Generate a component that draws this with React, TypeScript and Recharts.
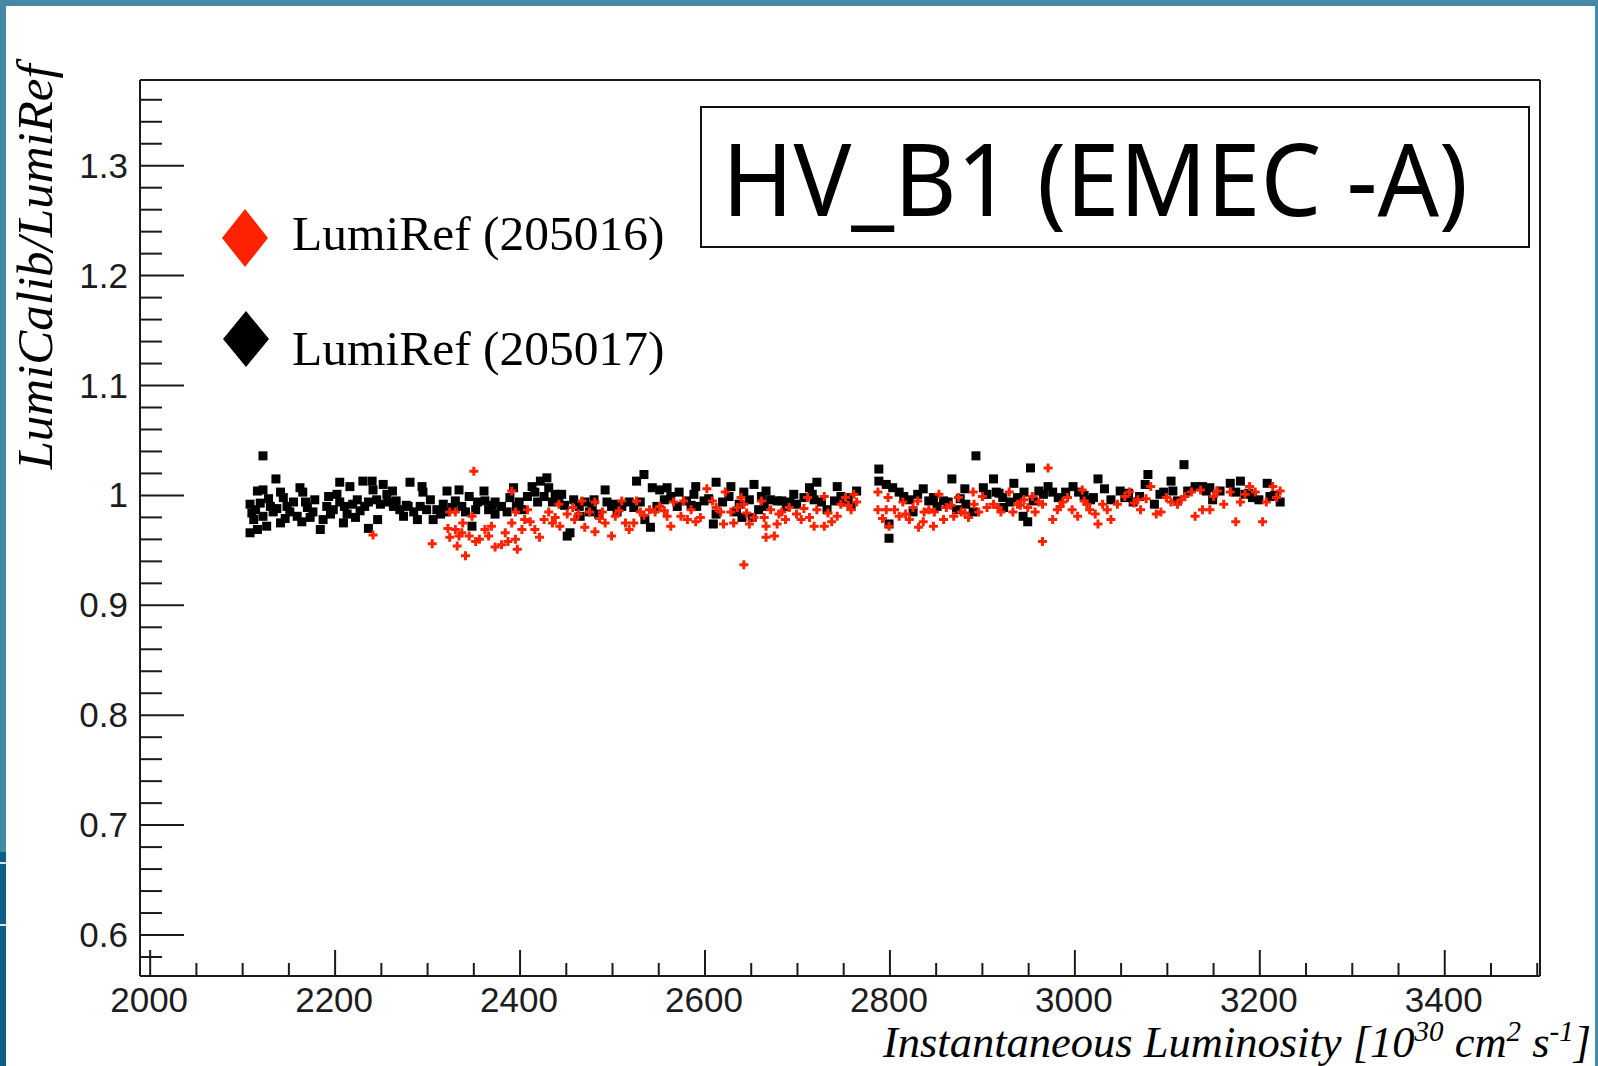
import { Scatter, ScatterChart, XAxis, YAxis } from "recharts";

// run 205017 (black squares)
const run205017Lumi = [
  2122, 2136, 2116, 2122, 2108, 2114, 2112, 2108, 2116, 2126, 2122, 2130, 2133, 2141, 2144, 2141, 2148, 2151, 2155, 2162,
  2165, 2159, 2164, 2173, 2170, 2178, 2184, 2187, 2191, 2193, 2202, 2198, 2205, 2205, 2209, 2213, 2216, 2219, 2224, 2222,
  2230, 2240, 2232, 2236, 2236, 2241, 2245, 2246, 2252, 2256, 2262, 2257, 2263, 2270, 2274, 2281, 2279, 2285, 2289, 2294,
  2295, 2299, 2303, 2306, 2310, 2314, 2321, 2319, 2334, 2330, 2337, 2341, 2345, 2348, 2354, 2361, 2362, 2366, 2373, 2373,
  2380, 2386, 2389, 2393, 2399, 2402, 2408, 2413, 2416, 2422, 2429, 2426, 2431, 2435, 2438, 2442, 2445, 2451, 2454, 2458,
  2464, 2465, 2470, 2475, 2480, 2485, 2492, 2494, 2499, 2505, 2510, 2518, 2523, 2526, 2534, 2535, 2541, 2543, 2548, 2551,
  2559, 2563, 2572, 2570, 2580, 2590, 2588, 2591, 2599, 2609, 2612, 2612, 2619, 2626, 2628, 2634, 2640, 2642, 2648, 2653,
  2651, 2658, 2664, 2666, 2671, 2678, 2683, 2688, 2696, 2699, 2707, 2713, 2716, 2721, 2726, 2732, 2743, 2747, 2750, 2758,
  2764, 2788, 2788, 2796, 2803, 2810, 2815, 2821, 2825, 2836, 2842, 2847, 2851, 2858, 2863, 2867, 2872, 2881, 2882, 2893,
  2890, 2901, 2905, 2912, 2915, 2922, 2923, 2930, 2934, 2938, 2944, 2949, 2945, 2952, 2955, 2961, 2971, 2976, 2982, 2990,
  2998, 3004, 2799, 2799, 3025, 3017, 3020, 3032, 3039, 3049, 3054, 3063, 3070, 3076, 3079, 3086, 3092, 3104, 3106, 3111,
  3118, 3122, 3130, 3138, 3149, 3146, 3157, 3168, 3174, 3179, 3184, 3192, 3199, 3208, 3211, 3222,
  2110, 2119, 2128, 2137, 2146, 2168, 2176, 2195, 2210, 2227, 2249, 2266, 2277, 2292, 2317, 2327, 2352, 2370, 2396, 2419,
  2448, 2478, 2503, 2530, 2556, 2585, 2604, 2637, 2661, 2692, 2718, 2740, 2755, 2830, 2876, 2918, 2966, 3010, 3058, 3096,
  3142, 3188, 3216,
];
const run205017Ratio = [
  1.036, 1.015, 1.004, 1.005, 0.992, 0.987, 0.978, 0.966, 0.969, 0.972, 0.981, 0.99, 0.985, 1.003, 0.998, 0.975, 0.99, 0.985, 0.994, 1.007,
  1.003, 0.981, 0.976, 0.98, 0.989, 0.996, 0.969, 0.978, 0.99, 0.999, 1.001, 0.987, 1.012, 0.994, 0.975, 0.983, 1.008, 0.992, 0.996, 0.98,
  1.013, 1.013, 0.99, 0.994, 0.97, 1.005, 0.996, 0.978, 1.01, 1.001, 1.004, 0.994, 0.99, 0.987, 0.981, 1.012, 0.99, 0.985, 0.978, 1.008,
  1.003, 0.987, 0.996, 0.978, 0.987, 0.983, 1.004, 0.985, 1.005, 0.995, 0.99, 0.985, 0.999, 0.972, 0.994, 1.004, 0.995, 0.987, 0.994, 0.983,
  0.99, 0.985, 0.998, 1.007, 0.994, 0.987, 0.999, 1.008, 1.003, 1.013, 1.016, 0.999, 1.007, 0.994, 1.001, 0.998, 1.001, 0.963, 0.966, 0.996,
  0.99, 0.981, 0.994, 0.985, 0.996, 0.983, 1.005, 0.994, 0.99, 0.985, 0.99, 0.994, 0.989, 1.013, 1.019, 0.978, 0.971, 1.007, 0.99, 1.005,
  1.007, 0.999, 1.003, 0.99, 0.995, 1.008, 1.001, 0.99, 0.995, 0.974, 1.012, 0.983, 0.994, 0.999, 1.008, 0.985, 0.98, 1.003, 0.996, 1.01,
  0.98, 0.987, 0.99, 1.004, 0.996, 0.995, 0.995, 0.99, 1.001, 0.992, 0.998, 1.007, 1.001, 1.012, 0.994, 0.987, 1.008, 0.999, 0.994, 0.99,
  1.004, 1.024, 1.013, 1.01, 1.007, 1.003, 0.999, 0.996, 0.985, 1.006, 0.995, 0.998, 0.99, 0.995, 0.994, 1.015, 0.987, 1.006, 0.992, 1.036,
  0.985, 1.007, 1.001, 1.015, 1.003, 0.998, 0.989, 0.994, 1.011, 0.998, 0.981, 0.976, 1.003, 1.025, 0.995, 1.004, 1.008, 1.003, 0.998, 1.003,
  1.008, 1.003, 0.974, 0.961, 1.015, 0.996, 0.998, 1.006, 0.996, 1.004, 0.998, 0.994, 0.999, 1.01, 1.019, 0.992, 1.001, 1.013, 1.004, 0.995,
  1.028, 1.004, 1.008, 1.008, 0.996, 1.007, 1.004, 1.011, 1.003, 1.013, 1.001, 0.998, 0.996, 1.011, 0.999, 0.994,
  0.984, 0.993, 0.997, 0.988, 0.979, 0.994, 0.985, 0.983, 0.99, 0.986, 0.992, 0.995, 0.991, 0.99, 0.992, 0.989, 0.987, 0.991, 0.99, 0.994,
  0.991, 0.99, 0.992, 0.994, 0.996, 0.991, 0.997, 0.992, 0.999, 0.994, 0.996, 0.995, 0.998, 1.001, 0.997, 1.002, 1.001, 1.0, 1.002, 1.003,
  1.004, 1.002, 1.0,
];

// run 205016 (red crosses)
const run205016Lumi = [
  2241, 2305, 2324, 2322, 2324, 2350, 2330, 2330, 2334, 2332, 2341, 2337, 2348, 2345, 2356, 2362, 2366, 2373, 2380, 2384,
  2391, 2391, 2397, 2395, 2395, 2402, 2408, 2411, 2416, 2421, 2426, 2431, 2435, 2442, 2443, 2451, 2457, 2459, 2467, 2470,
  2475, 2481, 2481, 2489, 2492, 2499, 2503, 2510, 2514, 2518, 2523, 2526, 2530, 2540, 2546, 2551, 2559, 2563, 2566, 2574,
  2577, 2581, 2590, 2595, 2602, 2608, 2617, 2620, 2622, 2628, 2631, 2635, 2639, 2642, 2642, 2648, 2653, 2661, 2664, 2666,
  2666, 2675, 2671, 2678, 2680, 2687, 2691, 2699, 2704, 2711, 2713, 2718, 2721, 2729, 2729, 2737, 2743, 2747, 2752, 2758,
  2761, 2764, 2787, 2787, 2798, 2799, 2796, 2805, 2810, 2814, 2821, 2825, 2830, 2831, 2836, 2837, 2847, 2848, 2853, 2858,
  2861, 2869, 2874, 2877, 2885, 2890, 2891, 2896, 2900, 2905, 2912, 2920, 2929, 2933, 2938, 2945, 2949, 2954, 2957, 2965,
  2971, 2965, 2976, 2981, 2987, 2992, 2997, 3003, 3008, 3010, 3016, 3022, 3025, 3030, 3039, 3046, 3054, 3059, 3068, 3071,
  3082, 3088, 3093, 3099, 3104, 3111, 3119, 3126, 3130, 3138, 3136, 3146, 3154, 3161, 3168, 3174, 3179, 3189, 3195, 3203,
  3207, 3214, 3222,
  2338, 2352, 2369, 2387, 2405, 2438, 2463, 2486, 2507, 2534, 2556, 2585, 2612, 2645, 2683, 2707, 2733, 2755, 2792, 2817,
  2842, 2866, 2881, 2917, 2941, 2961, 2984, 3013, 3035, 3064, 3077, 3115, 3150, 3184, 3218,
];
const run205016Ratio = [
  0.964, 0.956, 0.985, 0.97, 0.962, 1.022, 0.985, 0.969, 0.963, 0.954, 0.945, 0.966, 0.981, 0.963, 0.96, 0.969, 0.963, 0.953, 0.955, 0.966,
  1.004, 0.975, 0.951, 0.96, 0.985, 0.969, 0.987, 0.976, 0.969, 0.962, 0.978, 0.985, 0.975, 0.992, 0.972, 0.983, 0.989, 0.978, 0.995, 0.971,
  0.985, 0.994, 0.967, 0.985, 0.975, 0.963, 0.981, 0.995, 0.975, 0.969, 0.975, 0.995, 0.985, 0.987, 0.985, 0.99, 0.981, 0.972, 0.994, 0.981,
  0.995, 0.978, 0.976, 0.98, 1.006, 0.995, 0.985, 0.974, 1.003, 0.985, 0.975, 0.989, 0.998, 0.937, 0.992, 0.974, 0.98, 0.995, 0.98, 0.972,
  0.962, 0.963, 0.987, 0.974, 0.983, 0.978, 0.989, 0.983, 0.978, 0.998, 0.98, 0.972, 0.987, 0.999, 0.972, 0.976, 0.981, 0.992, 0.998, 0.987,
  1.001, 0.994, 1.003, 0.987, 0.998, 0.972, 0.987, 0.987, 0.981, 0.994, 0.978, 0.989, 0.995, 0.971, 0.976, 0.985, 0.972, 0.985, 1.001, 0.978,
  0.989, 0.981, 0.998, 0.985, 0.98, 1.003, 0.992, 0.985, 0.999, 0.989, 0.992, 0.985, 1.003, 0.985, 0.992, 0.996, 0.989, 0.999, 0.985, 0.958,
  1.025, 0.992, 0.978, 0.987, 0.994, 0.998, 0.987, 0.981, 1.005, 0.995, 0.987, 0.983, 0.974, 0.992, 0.978, 0.992, 0.999, 1.003, 0.996, 0.987,
  1.008, 0.983, 0.985, 0.998, 0.994, 0.992, 0.999, 1.003, 0.981, 0.987, 1.005, 0.987, 1.004, 0.992, 1.003, 0.976, 0.994, 1.008, 1.003, 0.976,
  0.994, 1.008, 1.004,
  0.975, 0.958, 0.972, 0.958, 0.978, 0.98, 0.983, 0.979, 0.986, 0.982, 0.986, 0.987, 0.989, 0.984, 0.985, 0.988, 0.984, 0.991, 0.979, 0.983,
  0.987, 0.991, 0.984, 0.989, 0.991, 0.994, 0.99, 0.992, 0.987, 0.993, 0.997, 0.996, 0.999, 1.001, 0.998,
];

const xMajorTicks = [2000, 2200, 2400, 2600, 2800, 3000, 3200, 3400];
const yMajorTicks = [0.6, 0.7, 0.8, 0.9, 1, 1.1, 1.2, 1.3];
const legendLabels = ["LumiRef (205016)", "LumiRef (205017)"];
const plotTitle = "HV_B1 (EMEC -A)";

// minor ticks: every 50 on x, every 0.02 on y
const xTicks = Array.from({ length: 31 }, (_, i) => 2000 + i * 50);
const yTicks = Array.from({ length: 40 }, (_, i) => Math.round((0.58 + i * 0.02) * 100) / 100);

const black = run205017Lumi.map((x, i) => ({ x, y: run205017Ratio[i] }));
const red = run205016Lumi.map((x, i) => ({ x, y: run205016Ratio[i] }));

const AXIS = "#1a1a1a";
const RED = "#ff2200";
const sans = "'Liberation Sans', Arial, sans-serif";
const serif = "'Liberation Serif', 'Times New Roman', serif";
const X_DOMAIN: [number, number] = [1989, 3503];
const Y_DOMAIN: [number, number] = [0.5627, 1.378];

function XTick({ x, y, payload }: any) {
  const major = xMajorTicks.includes(payload.value);
  return (
    <g>
      <line x1={x} x2={x} y1={y} y2={y - (major ? 26 : 13)} stroke={AXIS} strokeWidth={2} />
      {major && (
        <text x={x - 1} y={y + 36} textAnchor="middle" fontSize={35} fill="#1c1c1c" fontFamily={sans}>
          {payload.value}
        </text>
      )}
    </g>
  );
}

function YTick({ x, y, payload }: any) {
  const major = yMajorTicks.includes(payload.value);
  return (
    <g>
      <line x1={x} x2={x + (major ? 44 : 22)} y1={y} y2={y} stroke={AXIS} strokeWidth={2} />
      {major && (
        <text x={x - 12} y={y + 12} textAnchor="end" fontSize={35} fill="#1c1c1c" fontFamily={sans}>
          {String(payload.value)}
        </text>
      )}
    </g>
  );
}

const square = (p: any) => <rect x={p.cx - 4.5} y={p.cy - 4.5} width={9} height={9} fill="#000" />;
const cross = (p: any) => (
  <path
    d={`M${p.cx - 4.5},${p.cy}H${p.cx + 4.5}M${p.cx},${p.cy - 4.5}V${p.cy + 4.5}`}
    stroke={RED}
    strokeWidth={3}
  />
);

export default function App() {
  return (
    <div style={{ position: "absolute", left: 0, top: 0, width: 1598, height: 1066, background: "#fff" }}>
      <ScatterChart width={1598} height={1066} margin={{ top: 79, right: 57, bottom: 89, left: 139 }}>
        <XAxis
          type="number"
          dataKey="x"
          domain={X_DOMAIN}
          allowDataOverflow
          ticks={xTicks}
          interval={0}
          height={1}
          tickSize={0}
          tickMargin={0}
          tickLine={false}
          tick={<XTick />}
          axisLine={{ stroke: AXIS, strokeWidth: 2 }}
        />
        <YAxis
          type="number"
          dataKey="y"
          domain={Y_DOMAIN}
          allowDataOverflow
          ticks={yTicks}
          interval={0}
          width={1}
          tickSize={0}
          tickMargin={0}
          tickLine={false}
          tick={<YTick />}
          axisLine={{ stroke: AXIS, strokeWidth: 2 }}
        />
        <XAxis
          xAxisId="top"
          orientation="top"
          type="number"
          domain={X_DOMAIN}
          allowDataOverflow
          height={1}
          tick={false}
          tickLine={false}
          axisLine={{ stroke: AXIS, strokeWidth: 2 }}
        />
        <YAxis
          yAxisId="right"
          orientation="right"
          type="number"
          domain={Y_DOMAIN}
          allowDataOverflow
          width={1}
          tick={false}
          tickLine={false}
          axisLine={{ stroke: AXIS, strokeWidth: 2 }}
        />
        <Scatter data={black} shape={square} isAnimationActive={false} />
        <Scatter data={red} shape={cross} isAnimationActive={false} />
      </ScatterChart>

      <svg width={1598} height={1066} style={{ position: "absolute", left: 0, top: 0, pointerEvents: "none" }}>
        {/* slide frame */}
        <rect x={0} y={0} width={1598} height={6} fill="#4589a6" />
        <rect x={0} y={0} width={6} height={852} fill="#4589a6" />
        <rect x={0} y={852} width={6} height={214} fill="#0b5e86" />
        <rect x={0} y={862} width={6} height={2} fill="#d6e6ee" />
        <rect x={0} y={924} width={6} height={2} fill="#d6e6ee" />
        <rect x={1595} y={0} width={3} height={1066} fill="#4589a6" />

        {/* title box */}
        <rect x={701} y={107} width={828} height={140} fill="#fff" stroke="#111" strokeWidth={2} />
        <text x={722} y={216} fontSize={100} fontFamily="'Noto Sans', 'DejaVu Sans', sans-serif" fill="#000" textLength={746} lengthAdjust="spacingAndGlyphs">
          {plotTitle}
        </text>

        {/* legend */}
        <path d="M245,209 L268,238 L245,267 L222,238 Z" fill={RED} />
        <text x={292} y={250} fontSize={49.5} fontFamily={serif} fill="#000">
          {legendLabels[0]}
        </text>
        <path d="M246,311 L269,339 L246,367 L223,339 Z" fill="#000" />
        <text x={292} y={365} fontSize={49.5} fontFamily={serif} fill="#000">
          {legendLabels[1]}
        </text>

        {/* axis titles */}
        <text
          x={52}
          y={267}
          transform="rotate(-90 52 267)"
          textAnchor="middle"
          fontSize={51}
          fontStyle="italic"
          fontFamily={serif}
          fill="#000"
        >
          LumiCalib/LumiRef
        </text>
        <text x={1591} y={1057} textAnchor="end" fontSize={44.5} fontStyle="italic" fontFamily={serif} fill="#000">
          Instantaneous Luminosity [10
          <tspan fontSize={29} dy={-16}>30</tspan>
          <tspan dy={16}> cm</tspan>
          <tspan fontSize={29} dy={-16}>2</tspan>
          <tspan dy={16}> s</tspan>
          <tspan fontSize={29} dy={-16}>-1</tspan>
          <tspan dy={16}>]</tspan>
        </text>
      </svg>
    </div>
  );
}
